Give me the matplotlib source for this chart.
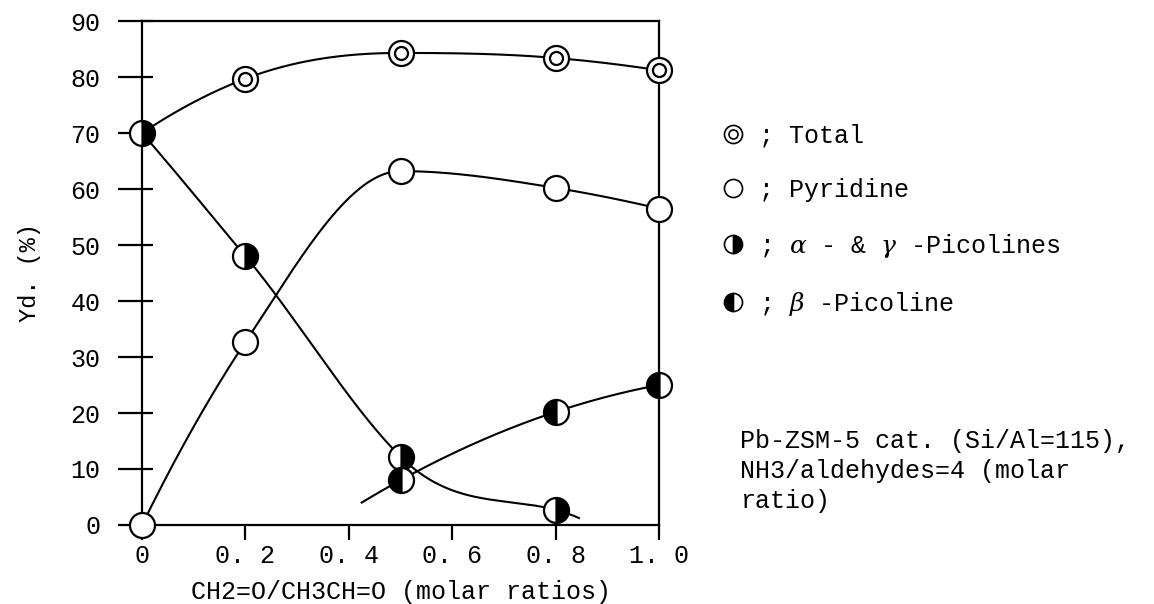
import numpy as np
import matplotlib
matplotlib.use("Agg")
import matplotlib.pyplot as plt
from matplotlib.lines import Line2D

plt.rcParams['font.family'] = ['Liberation Mono', 'DejaVu Sans']
plt.rcParams['mathtext.fontset'] = 'dejavuserif'

# molar ratio CH2=O / CH3CH=O
x_total = [0.0, 0.2, 0.5, 0.8, 1.0]
y_total = [70.0, 79.7, 84.3, 83.4, 81.2]

x_pyr = [0.0, 0.2, 0.5, 0.8, 1.0]
y_pyr = [0.0, 32.7, 63.2, 60.2, 56.5]

x_ag = [0.0, 0.2, 0.5, 0.8]
y_ag = [70.0, 48.0, 12.2, 2.7]

x_beta = [0.5, 0.8, 1.0]
y_beta = [8.0, 20.2, 25.0]

x_ticks = [0, 0.2, 0.4, 0.6, 0.8, 1.0]
x_ticklabels = ['0', '0. 2', '0. 4', '0. 6', '0. 8', '1. 0']
y_ticks = list(range(0, 91, 10))

FS = 18


def smooth(xs, ys, xq, lean=0.0):
    # cubic hermite through the points (3-point slopes, no overshoot),
    # only used to draw the hand-drawn looking guide curves.
    # lean -> 1 makes each point take the slope of the segment before it
    xs = np.asarray(xs, float)
    ys = np.asarray(ys, float)
    h = np.diff(xs)
    d = np.diff(ys) / h
    n = len(xs)
    m = np.zeros(n)
    for i in range(1, n - 1):
        if d[i - 1] * d[i] > 0:
            mid = (h[i] * d[i - 1] + h[i - 1] * d[i]) / (h[i - 1] + h[i])
            m[i] = (1 - lean) * mid + lean * d[i - 1]
    m[0] = ((2 * h[0] + h[1]) * d[0] - h[0] * d[1]) / (h[0] + h[1])
    if np.sign(m[0]) != np.sign(d[0]):
        m[0] = d[0]
    m[-1] = ((2 * h[-1] + h[-2]) * d[-1] - h[-1] * d[-2]) / (h[-1] + h[-2])
    if np.sign(m[-1]) != np.sign(d[-1]):
        m[-1] = d[-1]
    for i in range(n - 1):
        a, b = m[i] / d[i], m[i + 1] / d[i]
        if a * a + b * b > 9:
            tau = 3 / np.sqrt(a * a + b * b)
            m[i], m[i + 1] = tau * a * d[i], tau * b * d[i]
    idx = np.clip(np.searchsorted(xs, xq) - 1, 0, n - 2)
    hh = h[idx]
    t = (xq - xs[idx]) / hh
    h00 = 2 * t ** 3 - 3 * t ** 2 + 1
    h10 = t ** 3 - 2 * t ** 2 + t
    h01 = -2 * t ** 3 + 3 * t ** 2
    h11 = t ** 3 - t ** 2
    return h00 * ys[idx] + h10 * hh * m[idx] + h01 * ys[idx + 1] + h11 * hh * m[idx + 1]


fig = plt.figure(figsize=(11.54, 6.04), dpi=100)
ax = fig.add_axes([0.1231, 0.1308, 0.4480, 0.8344])

lw = 1.5
ms = 18
mew = 1.6

# guide curves
xx = np.linspace(0, 1.0, 300)
ax.plot(xx, smooth(x_total, y_total, xx), color='black', lw=lw, zorder=2)
ax.plot(xx, smooth(x_pyr, y_pyr, xx), color='black', lw=lw, zorder=2)
xa = np.linspace(0, 0.845, 300)
ax.plot(xa, smooth(x_ag, y_ag, xa, lean=1.0), color='black', lw=lw, zorder=2)
xb = np.linspace(0.425, 1.0, 200)
ax.plot(xb, smooth(x_beta, y_beta, xb), color='black', lw=lw, zorder=2)

# markers
ax.plot(x_total[1:], y_total[1:], 'o', ms=ms, mfc='white', mec='black', mew=mew,
        zorder=4, clip_on=False)
ax.plot(x_total[1:], y_total[1:], 'o', ms=ms * 0.52, mfc='none', mec='black', mew=mew,
        zorder=5, clip_on=False)
ax.plot(x_pyr, y_pyr, 'o', ms=ms, mfc='white', mec='black', mew=mew,
        zorder=4, clip_on=False)
ax.plot(x_ag, y_ag, 'o', ms=ms, mfc='black', mfcalt='white', fillstyle='right',
        mec='black', mew=mew, zorder=4, clip_on=False)
ax.plot(x_beta, y_beta, 'o', ms=ms, mfc='black', mfcalt='white', fillstyle='left',
        mec='black', mew=mew, zorder=4, clip_on=False)

ax.set_xlim(0, 1.0)
ax.set_ylim(0, 90)
ax.set_xticks(x_ticks)
ax.set_xticklabels(x_ticklabels)
ax.set_yticks(y_ticks)
ax.set_yticks(y_ticks, minor=True)
ax.yaxis.remove_overlapping_locs = False
ax.tick_params(axis='y', which='major', direction='out', length=17, width=1.6,
               pad=13, labelsize=FS)
ax.tick_params(axis='y', which='minor', direction='in', length=8, width=1.6)
ax.tick_params(axis='x', which='major', direction='out', length=11, width=1.6,
               pad=3, labelsize=FS)
for s in ax.spines.values():
    s.set_linewidth(1.6)

ax.set_xlabel('CH2=O/CH3CH=O (molar ratios)', fontsize=FS, labelpad=8)
ax.set_ylabel('Yd. (%)', fontsize=FS - 1, labelpad=21)

# legend
lm = 13
h_total = (Line2D([], [], ls='none', marker='o', ms=lm, mfc='white', mec='black', mew=1.2),
           Line2D([], [], ls='none', marker='o', ms=lm * 0.5, mfc='none', mec='black', mew=1.2))
h_pyr = Line2D([], [], ls='none', marker='o', ms=lm, mfc='white', mec='black', mew=1.2)
h_ag = Line2D([], [], ls='none', marker='o', ms=lm, mfc='black', mfcalt='white',
              fillstyle='right', mec='black', mew=1.2)
h_beta = Line2D([], [], ls='none', marker='o', ms=lm, mfc='black', mfcalt='white',
                fillstyle='left', mec='black', mew=1.2)
fig.legend([h_total, h_pyr, h_ag, h_beta],
           ['; Total', '; Pyridine', r'; $\alpha$ - & $\gamma$ -Picolines',
            r'; $\beta$ -Picoline'],
           loc='upper left', bbox_to_anchor=(718 / 1154, 1 - 124 / 604),
           frameon=False, fontsize=FS, handlelength=1.2, handletextpad=0.45,
           labelspacing=1.2, borderpad=0, borderaxespad=0)

fig.text(740 / 1154, 1 - 471 / 604,
         'Pb-ZSM-5 cat. (Si/Al=115),\nNH3/aldehydes=4 (molar\nratio)',
         fontsize=FS, va='center', ha='left', linespacing=1.29)

fig.savefig('out.png', dpi=100, facecolor='white')
